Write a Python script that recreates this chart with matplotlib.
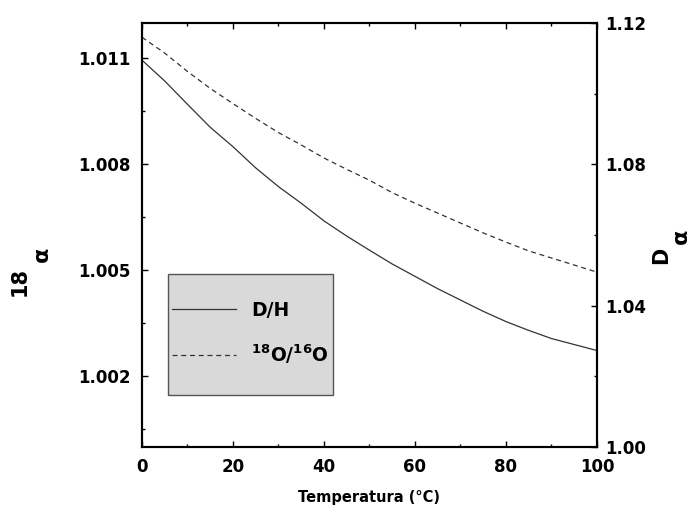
import matplotlib
matplotlib.use("Agg")
from matplotlib import pyplot as plt
from matplotlib.patches import Rectangle

plt.rcParams['font.family'] = ['DejaVu Sans']
plt.rcParams['mathtext.fontset'] = 'dejavusans'

# temperatura (°C)
temp = [0, 5, 10, 15, 20, 25, 30, 35, 40, 45, 50,
        55, 60, 65, 70, 75, 80, 85, 90, 95, 100]
# D/H, eixo direito
alpha_d = [1.1095, 1.1036, 1.0970, 1.0905, 1.0850, 1.0790, 1.0737, 1.0690,
           1.0640, 1.0597, 1.0557, 1.0518, 1.0483, 1.0448, 1.0416, 1.0384,
           1.0355, 1.0330, 1.0307, 1.0290, 1.0273]
# 18O/16O, eixo esquerdo
alpha_18 = [1.01160, 1.01115, 1.01063, 1.01015, 1.00972, 1.00930, 1.00890,
            1.00855, 1.00818, 1.00786, 1.00755, 1.00720, 1.00690, 1.00662,
            1.00634, 1.00606, 1.00580, 1.00555, 1.00535, 1.00515, 1.00495]

x_ticks = [0, 20, 40, 60, 80, 100]
x_minor = [10, 30, 50, 70, 90]
left_ticks = [1.002, 1.005, 1.008, 1.011]
left_minor = [1.0005, 1.0035, 1.0065, 1.0095]
right_ticks = [1.00, 1.04, 1.08, 1.12]
right_minor = [1.02, 1.06, 1.10]

fig = plt.figure(figsize=(6.94, 5.13), dpi=100)
ax = fig.add_axes([0.2046, 0.1287, 0.6556, 0.8263])
ax2 = ax.twinx()

l2, = ax.plot(temp, alpha_18, color="#333333", linestyle=(0, (4, 3)), linewidth=0.9)
l1, = ax2.plot(temp, alpha_d, color="#333333", linestyle="-", linewidth=0.9)

ax.set_xlim(0, 100)
ax.set_ylim(1.000, 1.012)
ax2.set_ylim(1.00, 1.12)

ax.set_xticks(x_ticks)
ax.set_xticks(x_minor, minor=True)
ax.set_xticklabels([str(t) for t in x_ticks])
ax.set_yticks(left_ticks)
ax.set_yticks(left_minor, minor=True)
ax.set_yticklabels(["%.3f" % v for v in left_ticks])
ax2.set_yticks(right_ticks)
ax2.set_yticks(right_minor, minor=True)
ax2.set_yticklabels(["%.2f" % v for v in right_ticks])

ax.tick_params(axis='x', which='both', direction='in', top=True, labelsize=12, pad=8)
ax.tick_params(axis='y', which='both', direction='in', right=False, labelsize=12, pad=8)
ax2.tick_params(axis='y', which='both', direction='in', labelsize=12, pad=6)
for a in (ax, ax2):
    a.tick_params(which='major', length=4, width=1)
    a.tick_params(which='minor', length=2.5, width=1)
    for lab in a.get_xticklabels() + a.get_yticklabels():
        lab.set_fontweight('bold')
    for s in a.spines.values():
        s.set_linewidth(1.5)

ax.set_xlabel("Temperatura (°C)", fontsize=10.5, fontweight='bold', labelpad=10)

# rótulos dos eixos y: 18α (esquerda) e Dα (direita)
fig.text(0.029, 0.452, "18", rotation=90, fontsize=15, fontweight='bold',
         ha='center', va='center')
fig.text(0.060, 0.505, "α", rotation=90, fontsize=16, fontweight='bold',
         ha='center', va='center')
fig.text(0.953, 0.503, "D", rotation=90, fontsize=15, fontweight='bold',
         ha='center', va='center')
fig.text(0.981, 0.540, "α", rotation=90, fontsize=16, fontweight='bold',
         ha='center', va='center')

# caixa da legenda
ax2.add_patch(Rectangle((0.057, 0.123), 0.363, 0.285, transform=ax2.transAxes,
                        facecolor='#d9d9d9', edgecolor='#555555', linewidth=1.0,
                        zorder=3))
leg = ax2.legend([l1, l2], ["D/H", r'$\mathbf{^{18}O/^{16}O}$'],
                 loc='center left', bbox_to_anchor=(0.066, 0.268),
                 frameon=False, prop={'size': 13.5, 'weight': 'bold'},
                 handlelength=3.4, handletextpad=0.8, borderpad=0,
                 labelspacing=1.2, borderaxespad=0)
leg.set_zorder(4)

plt.savefig("out.png", dpi=100)
